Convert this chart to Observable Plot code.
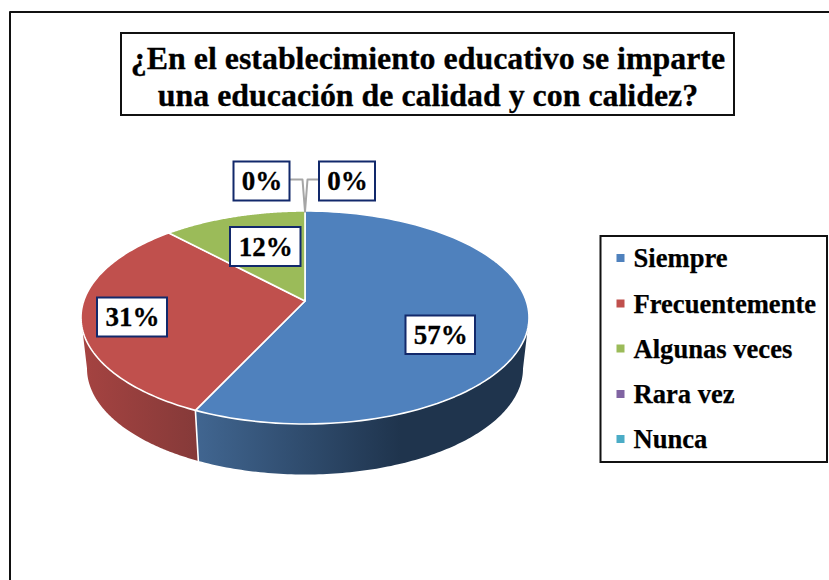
<!DOCTYPE html>
<html>
<head>
<meta charset="utf-8">
<script src="https://cdn.jsdelivr.net/npm/d3@7"></script>
<script src="https://cdn.jsdelivr.net/npm/@observablehq/plot@0.6"></script>
<style>html,body{margin:0;padding:0;background:#fff;overflow:hidden}svg{display:block}</style>
</head>
<body>
<div id="chart"></div>
<script>
const categories = ["Siempre", "Frecuentemente", "Algunas veces", "Rara vez", "Nunca"];
const shares = [57, 31, 12, 0, 0];
const sliceColors = ["#4f81bd", "#c0504d", "#9bbb59", "#8064a2", "#4bacc6"];
const titleLines = ["¿En el establecimiento educativo se imparte", "una educación de calidad y con calidez?"];

// ---- drawing layout ----
const W = 829, H = 580, FONT = "'Liberation Serif','Times New Roman',serif";
const top3d = {cx: 304.5, cy: 317, rx: 224, ry: 106.5};
const bottom3d = {cx: 304.5, cy: 368, rx: 218, ry: 106};
const tilt = -0.155; // perspective: moves the pie centre up inside the ellipse

function project(frac, e) {
  const t = 2 * Math.PI * frac, x = Math.sin(t), y = -Math.cos(t), d = 1 + tilt * y;
  return {x: e.cx + e.rx * x * Math.sqrt(1 - tilt * tilt) / d, y: e.cy + e.ry * (y + tilt) / d};
}
const apex = {x: top3d.cx, y: top3d.cy + top3d.ry * tilt};
const arc = (a, b, e) => d3.range(0, 121).map(i => project(a + (b - a) * i / 120, e));

const total = d3.sum(shares);
const cum = d3.cumsum(shares).map(v => v / total);
const starts = [0, ...cum.slice(0, -1)];
const rightEdge = Math.acos(tilt) / (2 * Math.PI);

function ribbon(a, b) {
  const p = [...arc(a, b, top3d), ...arc(a, b, bottom3d).reverse()];
  p.push(p[0]);
  return p;
}

const topFaces = shares.map((s, i) => s > 0
  ? Plot.line([apex, ...arc(starts[i], cum[i], top3d), apex], {
      x: "x", y: "y", curve: "linear", fill: sliceColors[i], stroke: "#fff",
      strokeWidth: 1.6, strokeLinejoin: "round"
    })
  : null);

const boxes = [
  {label: `${shares[3]}%`, x1: 233.5, x2: 289.5, y1: 161.5, y2: 200.5},
  {label: `${shares[4]}%`, x1: 319, x2: 375, y1: 161.5, y2: 200.5},
  {label: `${shares[2]}%`, x1: 230, x2: 300.5, y1: 227, y2: 266},
  {label: `${shares[1]}%`, x1: 97, x2: 167, y1: 297.5, y2: 336.5},
  {label: `${shares[0]}%`, x1: 405.5, x2: 475, y1: 315.5, y2: 354}
];
const legendY = [258, 303.5, 348.5, 394, 439];
const legend = categories.map((c, i) => ({c, color: sliceColors[i], y: legendY[i]}));

const defs = () => {
  const g = document.createElementNS("http://www.w3.org/2000/svg", "defs");
  g.innerHTML = `
    <linearGradient id="sideBlue" gradientUnits="userSpaceOnUse" x1="195" x2="400" y1="0" y2="0">
      <stop offset="0" stop-color="#416691"/><stop offset="1" stop-color="#1f344d"/>
    </linearGradient>
    <linearGradient id="sideRed" gradientUnits="userSpaceOnUse" x1="82" x2="195" y1="0" y2="0">
      <stop offset="0" stop-color="#a54341"/><stop offset="1" stop-color="#863a39"/>
    </linearGradient>`;
  return g;
};

const chart = Plot.plot({
  width: W, height: H,
  margin: 0,
  x: {domain: [0, W], range: [0, W], axis: null},
  y: {domain: [0, H], range: [0, H], axis: null},
  style: {background: "#fff", fontFamily: FONT},
  marks: [
    defs,
    // frame
    Plot.line([{x: 9.5, y: H}, {x: 9.5, y: 11.5}, {x: W, y: 11.5}], {x: "x", y: "y", stroke: "#111", strokeWidth: 2}),
    // title
    Plot.rect([0], {x1: 121, x2: 734, y1: 33, y2: 115, fill: "#fff", stroke: "#111", strokeWidth: 2}),
    Plot.text(titleLines, {
      x: () => 427.5, y: (d, i) => [58, 95][i], text: d => d,
      fontSize: 31.9, fontWeight: "bold", fill: "#000", stroke: "#000", strokeWidth: 0.3, fontFamily: FONT
    }),
    // pie sides
    Plot.line(ribbon(rightEdge, cum[0]), {x: "x", y: "y", curve: "linear", fill: "url(#sideBlue)", stroke: "none"}),
    Plot.line(ribbon(cum[0], 1 - rightEdge), {x: "x", y: "y", curve: "linear", fill: "url(#sideRed)", stroke: "none"}),
    Plot.line([project(cum[0], top3d), project(cum[0], bottom3d)], {x: "x", y: "y", stroke: "#fff", strokeWidth: 1.6}),
    // pie top
    ...topFaces.filter(Boolean),
    // leader lines
    Plot.line([{x: 290, y: 179}, {x: 302, y: 179}, {x: 304.5, y: 211}], {x: "x", y: "y", curve: "linear", stroke: "#a6a6a6", strokeWidth: 2}),
    Plot.line([{x: 318.5, y: 179}, {x: 307, y: 179}, {x: 304.5, y: 211}], {x: "x", y: "y", curve: "linear", stroke: "#a6a6a6", strokeWidth: 2}),
    // data labels
    Plot.rect(boxes, {x1: "x1", x2: "x2", y1: "y1", y2: "y2", fill: "#fff", stroke: "#12296b", strokeWidth: 2}),
    Plot.text(boxes, {
      x: d => (d.x1 + d.x2) / 2, y: d => (d.y1 + d.y2) / 2, text: "label",
      fontSize: 27, fontWeight: "bold", fill: "#000", stroke: "#000", strokeWidth: 0.3, fontFamily: FONT
    }),
    // legend
    Plot.rect([0], {x1: 600.5, x2: 827, y1: 236, y2: 462, fill: "#fff", stroke: "#111", strokeWidth: 2}),
    Plot.rect(legend, {x1: () => 616.5, x2: () => 624.5, y1: d => d.y - 4, y2: d => d.y + 4, fill: "color"}),
    Plot.text(legend, {
      x: () => 633, y: "y", text: "c", textAnchor: "start",
      fontSize: 26.6, fontWeight: "bold", fill: "#000", stroke: "#000", strokeWidth: 0.25, fontFamily: FONT
    })
  ]
});
document.getElementById("chart").append(chart);
</script>
</body>
</html>
